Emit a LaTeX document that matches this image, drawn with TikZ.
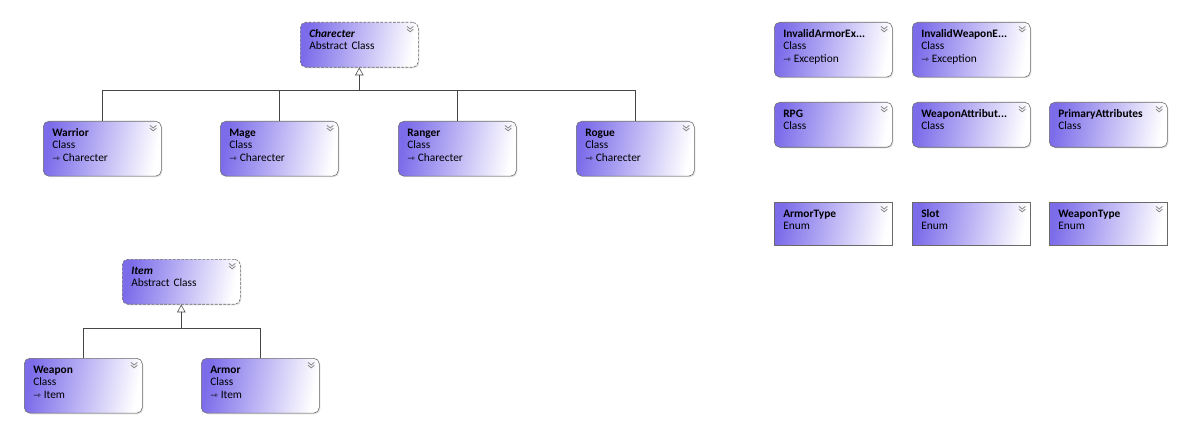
\documentclass[tikz,border=0pt]{standalone}
\usepackage{fontspec}
\setmainfont{Carlito}
\newfontfamily\symfont{DejaVu Sans}
\usetikzlibrary{arrows.meta}
\usetikzlibrary{shadows}

\definecolor{umlpurple}{RGB}{124,108,234}
\definecolor{umlborder}{RGB}{105,105,105}
\definecolor{umlline}{RGB}{70,70,70}
\newcommand{\inh}{{\symfont\fontsize{6.5}{6}\selectfont ⇾}\hspace{2pt}}

\begin{document}
\begin{tikzpicture}[x=0.025cm, y=-0.025cm,
  umlbox/.style={draw=umlborder, rounded corners=4pt, anchor=north west,
    left color=umlpurple, right color=white, shading angle=80,
    drop shadow={shadow xshift=0.8pt, shadow yshift=-0.8pt, opacity=0.25},
    minimum width=2.95cm, text width=2.5cm, inner xsep=0.2cm, inner ysep=3pt,
    align=left, text height=7.8pt,
    font=\fontsize{8.1}{8.8}\selectfont},
  classbox/.style={umlbox, text depth=25.2pt},
  smallbox/.style={umlbox, text depth=18.2pt},
  abstractbox/.style={smallbox, dash pattern=on 2pt off 1pt},
  enumbox/.style={umlbox, rounded corners=0pt, text depth=16.8pt},
  chevron/.style={draw=gray!90, line width=0.6pt},
  inherit/.style={draw=umlline, -{Triangle[open, width=6pt, length=5.5pt]}},
  link/.style={draw=umlline}]

\useasboundingbox (0,0) rectangle (1186,427);

% characters
\node[abstractbox] (charecter) at (300,22) {\textbf{\textit{Charecter}}\\Abstract Class};
\node[classbox] (warrior) at (43,121) {\textbf{Warrior}\\Class\\\inh Charecter};
\node[classbox] (mage) at (220,121) {\textbf{Mage}\\Class\\\inh Charecter};
\node[classbox] (ranger) at (398,121) {\textbf{Ranger}\\Class\\\inh Charecter};
\node[classbox] (rogue) at (576,121) {\textbf{Rogue}\\Class\\\inh Charecter};

% items
\node[abstractbox] (item) at (122,259) {\textbf{\textit{Item}}\\Abstract Class};
\node[classbox] (weapon) at (24,358) {\textbf{Weapon}\\Class\\\inh Item};
\node[classbox] (armor) at (201,358) {\textbf{Armor}\\Class\\\inh Item};

% exceptions
\node[classbox] (invalidarmor) at (774,22) {\textbf{InvalidArmorEx...}\\Class\\\inh Exception};
\node[classbox] (invalidweapon) at (912,22) {\textbf{InvalidWeaponE...}\\Class\\\inh Exception};

% other classes
\node[smallbox] (rpg) at (774,102) {\textbf{RPG}\\Class};
\node[smallbox] (weaponattr) at (912,102) {\textbf{WeaponAttribut...}\\Class};
\node[smallbox] (primattr) at (1049,102) {\textbf{PrimaryAttributes}\\Class};

% enums
\node[enumbox] (armortype) at (774,202) {\textbf{ArmorType}\\Enum};
\node[enumbox] (slot) at (912,202) {\textbf{Slot}\\Enum};
\node[enumbox] (weapontype) at (1049,202) {\textbf{WeaponType}\\Enum};

% collapse chevrons
\foreach \n in {charecter,warrior,mage,ranger,rogue,item,weapon,armor,
  invalidarmor,invalidweapon,rpg,weaponattr,primattr,armortype,slot,weapontype}{
  \draw[chevron] ([shift={(-0.29cm,-0.11cm)}]\n.north east) -- ++(0.08cm,-0.065cm) -- ++(0.08cm,0.065cm);
  \draw[chevron] ([shift={(-0.29cm,-0.18cm)}]\n.north east) -- ++(0.08cm,-0.065cm) -- ++(0.08cm,0.065cm);
}

% inheritance
\coordinate (charbar) at ([yshift=-0.575cm]charecter.south);
\draw[link] (warrior.north) |- (charbar);
\draw[link] (rogue.north) |- (charbar);
\draw[link] (mage.north) -- (mage.north |- charbar);
\draw[link] (ranger.north) -- (ranger.north |- charbar);
\draw[inherit] (charbar) -- (charecter.south);

\coordinate (itembar) at ([yshift=-0.6cm]item.south);
\draw[link] (weapon.north) |- (itembar);
\draw[link] (armor.north) |- (itembar);
\draw[inherit] (itembar) -- (item.south);

\end{tikzpicture}
\end{document}
